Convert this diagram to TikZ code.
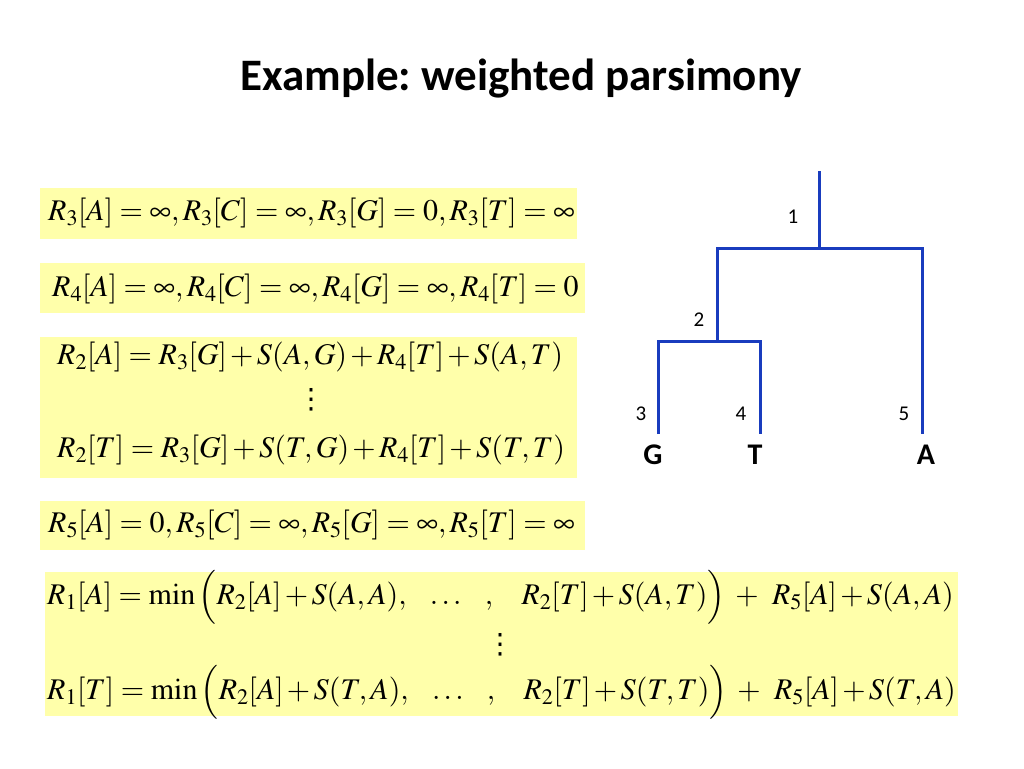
\documentclass[tikz,border=0pt]{standalone}
\usepackage{amsmath}
\usepackage{mathptmx}
\usepackage[no-math]{fontspec}
\usepackage{xcolor}
\newfontfamily\calibri{Carlito}
\newfontfamily\dejavu{DejaVu Sans}
\definecolor{boxyellow}{RGB}{255,255,170}
\definecolor{treeblue}{RGB}{25,60,190}
\newcommand\eqspacing{\medmuskip=2mu\relax\thickmuskip=4mu\relax}
\tikzset{
  eq/.style={anchor=west,inner sep=0pt,font=\fontsize{30}{34}\selectfont\eqspacing},
  dots/.style={inner sep=0pt,font=\dejavu\fontsize{28}{32}\selectfont},
  branch/.style={draw=treeblue,line width=3pt},
  nodenum/.style={font=\calibri\fontsize{21}{24}\selectfont,inner sep=0pt},
  leaf/.style={font=\calibri\bfseries\fontsize{30}{34}\selectfont,inner sep=0pt}
}
\begin{document}
\begin{tikzpicture}[x=1pt,y=-1pt]
  \useasboundingbox (0,0) rectangle (1024,768);
  \node[font=\calibri\bfseries\fontsize{45}{50}\selectfont,anchor=base] (title) at (521,90) {\frenchspacing Example: weighted parsimony};
  % yellow boxes
  \fill[boxyellow] (40,188) rectangle (577,239);
  \fill[boxyellow] (40,263) rectangle (585,313);
  \fill[boxyellow] (40,337) rectangle (577,478);
  \fill[boxyellow] (40,501) rectangle (585,550);
  \fill[boxyellow] (45,572) rectangle (958,716);
  % equations
  \node[eq] (R3) at (48,213) {$R_3[A]=\infty, R_3[C]=\infty, R_3[G]=0, R_3[T]=\infty$};
  \node[eq] (R4) at (52,289) {$R_4[A]=\infty, R_4[C]=\infty, R_4[G]=\infty, R_4[T]=0$};
  \node[eq] (R2A) at (57,357) {$R_2[A]=R_3[G]+S(A,G)+R_4[T]+S(A,T)$};
  \node[dots] (R2dots) at (311,400) {⋮};
  \node[eq] (R2T) at (57,450) {$R_2[T]=R_3[G]+S(T,G)+R_4[T]+S(T,T)$};
  \node[eq] (R5) at (48,525) {$R_5[A]=0, R_5[C]=\infty, R_5[G]=\infty, R_5[T]=\infty$};
  \node[eq] (R1A) at (47,597) {$R_1[A]=\min\Big(R_2[A]+S(A,A),\mskip12mu\ldots\mskip12mu,\mskip15mu R_2[T]+S(A,T)\Big)\mskip4mu+\mskip6mu R_5[A]+S(A,A)$};
  \node[dots] (R1dots) at (500,645) {⋮};
  \node[eq] (R1T) at (47,692) {$R_1[T]=\min\Big(R_2[A]+S(T,A),\mskip12mu\ldots\mskip12mu,\mskip15mu R_2[T]+S(T,T)\Big)\mskip4mu+\mskip6mu R_5[A]+S(T,A)$};
  % tree
  \coordinate (root) at (819,171);
  \coordinate (c1) at (819,248);
  \coordinate (c2) at (717,341);
  \coordinate (c3) at (658,434);
  \coordinate (c4) at (760,434);
  \coordinate (c5) at (922,434);
  \draw[branch] (root) -- (c1);
  \draw[branch] (c2) |- (c1) -| (c5);
  \draw[branch] (c3) |- (c2) -| (c4);
  \node[nodenum] (l1) at (793,217) {1};
  \node[nodenum] (l2) at (699,320) {2};
  \node[nodenum] (l3) at (641,414) {3};
  \node[nodenum] (l4) at (741,414) {4};
  \node[nodenum] (l5) at (904,414) {5};
  \node[leaf] (G) at (653,455) {G};
  \node[leaf] (T) at (755,455) {T};
  \node[leaf] (A) at (926,455) {A};
\end{tikzpicture}
\end{document}
